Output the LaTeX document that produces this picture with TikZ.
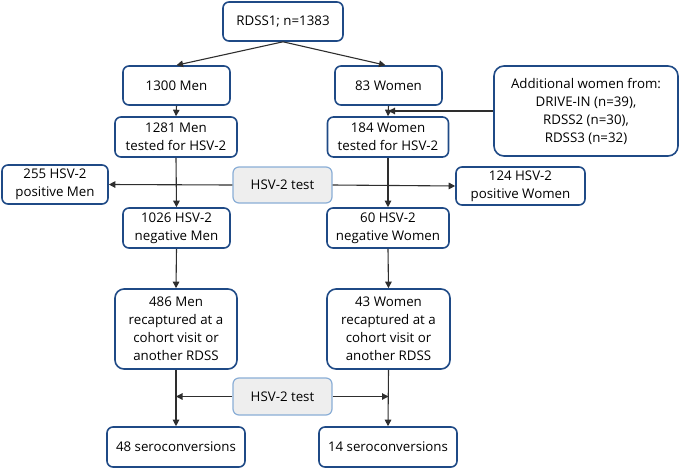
\documentclass[tikz,border=0pt]{standalone}
\usepackage{fontspec}
\setmainfont{Open Sans}
\usetikzlibrary{arrows.meta}
\definecolor{boxblue}{HTML}{1F4A86}
\definecolor{testblue}{HTML}{8AAED6}
\definecolor{testfill}{HTML}{EEEEEE}
\definecolor{linegray}{HTML}{2E2E2E}
\tikzset{
  fbox/.style={draw=boxblue, line width=1.6pt, rounded corners=6pt, align=center,
    inner sep=0pt, font=\fontsize{13.3}{18}\selectfont, text=black, fill=white},
  tbox/.style={draw=testblue, line width=1.2pt, fill=testfill, rounded corners=6pt,
    align=center, inner sep=0pt, font=\fontsize{13.3}{18}\selectfont},
  conn/.style={draw=linegray, line width=1.1pt, -{Triangle[length=6.5pt,width=6.5pt]}},
}
\begin{document}
\begin{tikzpicture}[x=1pt,y=-1pt]
\useasboundingbox (0,0) rectangle (680,469);
\node[fbox, minimum width=120pt, minimum height=39pt] (rdss) at (283,21.5) {RDSS1; n=1383};
\node[fbox, minimum width=107pt, minimum height=39pt] (men) at (176.5,85.5) {1300 Men};
\node[fbox, minimum width=107pt, minimum height=39pt] (women) at (388.5,85.5) {83 Women};
\node[fbox, minimum width=122pt, minimum height=40pt] (men2) at (176,137) {1281 Men\\tested for HSV-2};
\node[fbox, minimum width=121pt, minimum height=40pt] (women2) at (388,137) {184 Women\\tested for HSV-2};
\node[fbox, minimum width=184pt, minimum height=90pt, rounded corners=10pt] (add) at (586,111) {Additional women from:\\DRIVE-IN (n=39),\\RDSS2 (n=30),\\RDSS3 (n=32)};
\node[tbox, minimum width=99pt, minimum height=36pt] (test1) at (282.5,185) {HSV-2 test};
\node[fbox, minimum width=106pt, minimum height=39pt] (posm) at (55,184.5) {255 HSV-2\\positive Men};
\node[fbox, minimum width=129pt, minimum height=38pt] (posw) at (520.5,186) {124 HSV-2\\positive Women};
\node[fbox, minimum width=107pt, minimum height=40pt] (negm) at (176.5,228) {1026 HSV-2\\negative Men};
\node[fbox, minimum width=122pt, minimum height=40pt] (negw) at (388,228) {60 HSV-2\\negative Women};
\node[fbox, minimum width=122pt, minimum height=80pt, rounded corners=9pt] (recm) at (176,329) {486 Men\\recaptured at a\\cohort visit or\\another RDSS};
\node[fbox, minimum width=123pt, minimum height=80pt, rounded corners=9pt] (recw) at (388.5,329) {43 Women\\recaptured at a\\cohort visit or\\another RDSS};
\node[tbox, minimum width=99pt, minimum height=37pt] (test2) at (282.5,396.5) {HSV-2 test};
\node[fbox, minimum width=138pt, minimum height=40pt] (serom) at (176,447) {48 seroconversions};
\node[fbox, minimum width=138pt, minimum height=40pt] (serow) at (388,447) {14 seroconversions};

\draw[conn] (rdss.south) -- (men.north);
\draw[conn] (rdss.south) -- ([xshift=-3pt]women.north);
\draw[conn] (men.south) -- (men2.north);
\draw[conn] (women.south) -- (women2.north);
\draw[conn] (add.west) -- (add.west -| women.south);
\draw[conn] (men2.south) -- (negm.north);
\draw[conn] (women2.south) -- (negw.north);
\draw[conn] (test1.west) -- (posm.east);
\draw[conn] (test1.east) -- (posw.west);
\draw[conn] (negm.south) -- (recm.north);
\draw[conn] (negw.south) -- (recw.north);
\draw[conn] (recm.south) -- (serom.north);
\draw[conn] (recw.south) -- (serow.north);
\draw[conn] (test2.west) -- (test2.west -| recm.south);
\draw[conn] (test2.east) -- (test2.east -| recw.south);
\end{tikzpicture}
\end{document}
